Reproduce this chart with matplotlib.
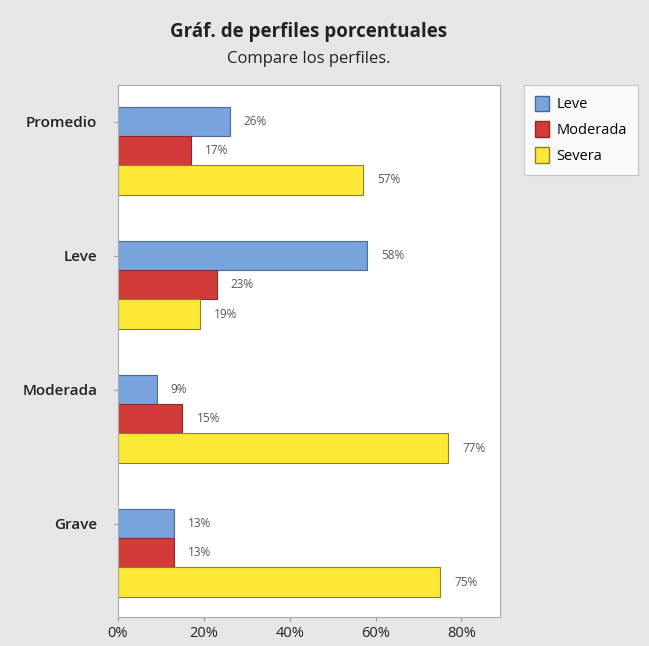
import numpy as np
import matplotlib.pyplot as plt
from matplotlib.patches import Patch

# Data
groups = ["Promedio", "Leve", "Moderada", "Grave"]
series = ["Leve", "Moderada", "Severa"]
leve = [26, 58, 9, 13]
moderada = [17, 23, 15, 13]
severa = [57, 19, 77, 75]
x_ticks = [0, 20, 40, 60, 80]

colors = ["#79a3dc", "#d33a3a", "#fde935"]
edges = ["#4a6a99", "#8a2a2a", "#8a7f30"]

plt.rcParams['font.family'] = ['Open Sans', 'DejaVu Sans']

fig = plt.figure(figsize=(6.49, 6.46), dpi=100, facecolor="#e6e6e6")
ax = fig.add_axes([0.1818, 0.0449, 0.5886, 0.8235])
ax.set_facecolor("white")

spacing = 4.6
base = np.arange(len(groups)) * spacing
values = [leve, moderada, severa]
for k, vals in enumerate(values):
    ys = base + k
    ax.barh(ys, vals, height=1.0, color=colors[k], edgecolor=edges[k],
            linewidth=0.8, label=series[k])
    for y, v in zip(ys, vals):
        ax.text(v + 3.3, y, f"{v}%", va="center", ha="left", fontsize=8.5,
                color="#555555")

ax.set_ylim(base[-1] + 2 + 1.2, -1.26)
ax.set_xlim(0, 89)
ax.set_yticks(base)
ax.set_yticklabels(groups, fontsize=11, fontweight="semibold", color="#222222")
ax.set_xticks(x_ticks)
ax.set_xticklabels([f"{t}%" for t in x_ticks], fontsize=10.5, color="#222222")
ax.tick_params(axis="y", length=3, pad=12, color="#999999")
ax.tick_params(axis="x", length=3, color="#999999")
for s in ax.spines.values():
    s.set_color("#aaaaaa")
    s.set_linewidth(0.8)

fig.text(0.476, 0.950, "Gráf. de perfiles porcentuales", ha="center", va="center",
         fontsize=13.5, fontweight="bold", color="#222222")
fig.text(0.476, 0.908, "Compare los perfiles.", ha="center", va="center",
         fontsize=12, color="#222222")

handles = [Patch(facecolor=colors[k], edgecolor=edges[k], label=series[k])
           for k in range(3)]
leg = fig.legend(handles=handles, loc="upper left", bbox_to_anchor=(0.807, 0.869),
                 fontsize=10.5, frameon=True, fancybox=False, borderpad=0.75,
                 handlelength=1.0, handleheight=1.3, handletextpad=0.5,
                 labelspacing=0.6, borderaxespad=0)
leg.get_frame().set_edgecolor("#bbbbbb")
leg.get_frame().set_linewidth(0.8)
leg.get_frame().set_facecolor("white")

fig.savefig("out.png", dpi=100, facecolor=fig.get_facecolor())
